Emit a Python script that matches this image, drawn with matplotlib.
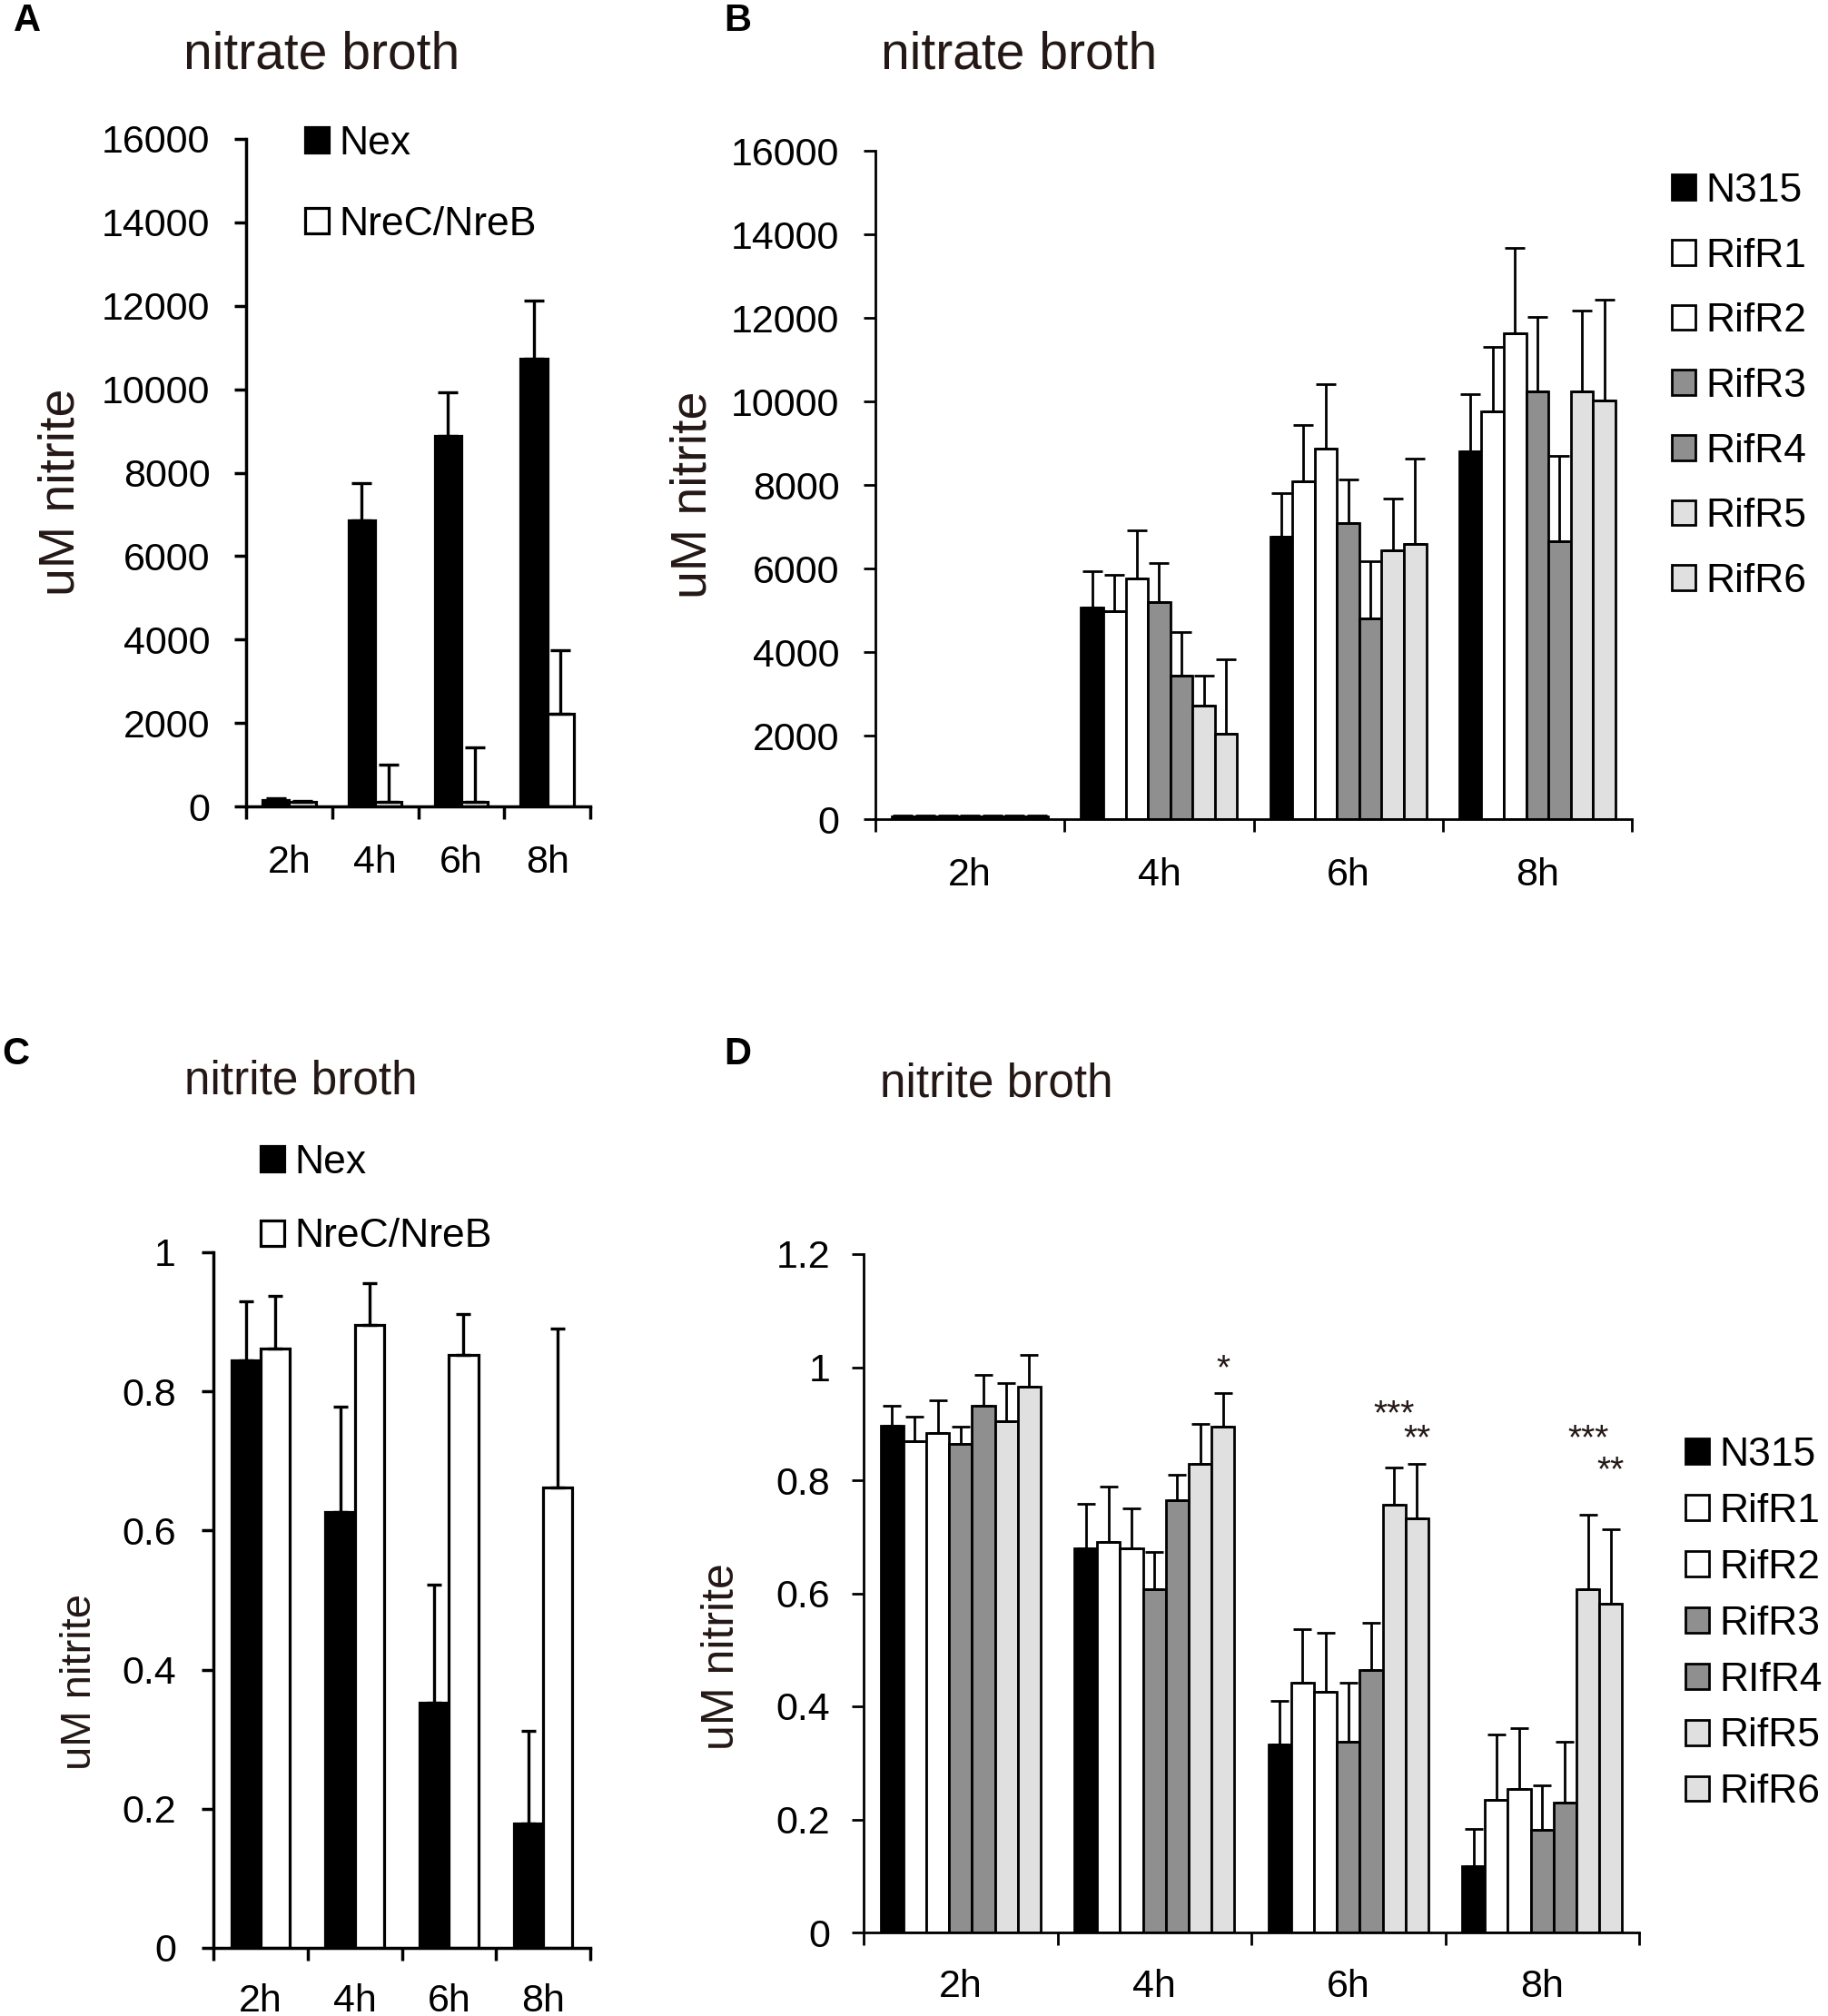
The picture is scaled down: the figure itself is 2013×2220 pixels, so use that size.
import numpy as np
import matplotlib.pyplot as plt
from matplotlib.ticker import FuncFormatter

plt.rcParams['font.family'] = ['Liberation Sans', 'DejaVu Sans']

W, H, DPI = 2013, 2220, 100
INK = '#231815'

times = ['2h', '4h', '6h', '8h']

# A / C: Nex vs NreC/NreB
ac_labels = ['Nex', 'NreC/NreB']
a_nex = [150, 6860, 8880, 10740]
a_nex_err = [50, 880, 1040, 1380]
a_nre = [100, 100, 100, 2220]
a_nre_err = [30, 900, 1310, 1530]

c_nex = [0.844, 0.627, 0.352, 0.179]
c_nex_err = [0.086, 0.151, 0.170, 0.133]
c_nre = [0.862, 0.896, 0.853, 0.662]
c_nre_err = [0.075, 0.059, 0.058, 0.228]

# B / D: N315 and six RifR strains
b_strains = ['N315', 'RifR1', 'RifR2', 'RifR3', 'RifR4', 'RifR5', 'RifR6']
d_strains = ['N315', 'RifR1', 'RifR2', 'RifR3', 'RIfR4', 'RifR5', 'RifR6']
strain_colors = ['#000000', '#ffffff', '#ffffff', '#8f8f8f', '#8f8f8f', '#e0e0e0', '#e0e0e0']

b_means = [
    [60, 5070, 6770, 8810],
    [60, 4970, 8090, 9760],
    [60, 5770, 8880, 11630],
    [60, 5200, 7080, 10240],
    [60, 3440, 4800, 6660],
    [60, 2710, 6430, 10240],
    [60, 2050, 6590, 10030],
]
b_errs = [
    [20, 870, 1040, 1360],
    [20, 870, 1350, 1550],
    [20, 1140, 1540, 2040],
    [20, 920, 1050, 1790],
    [20, 1040, 1380, 2030],
    [20, 730, 1240, 1940],
    [20, 1770, 2030, 2400],
]

d_means = [
    [0.896, 0.680, 0.332, 0.117],
    [0.869, 0.691, 0.441, 0.235],
    [0.883, 0.679, 0.426, 0.254],
    [0.865, 0.607, 0.338, 0.181],
    [0.931, 0.764, 0.464, 0.229],
    [0.905, 0.829, 0.756, 0.607],
    [0.966, 0.894, 0.733, 0.582],
]
d_errs = [
    [0.035, 0.079, 0.077, 0.066],
    [0.044, 0.098, 0.095, 0.115],
    [0.059, 0.072, 0.104, 0.107],
    [0.029, 0.066, 0.103, 0.080],
    [0.055, 0.046, 0.084, 0.109],
    [0.067, 0.071, 0.067, 0.132],
    [0.055, 0.061, 0.096, 0.132],
]

# significance marks in D
d_stars = ['*', '***', '**', '***', '**']
d_star_time = [1, 2, 2, 3, 3]
d_star_strain = [6, 5, 6, 5, 6]
d_star_y = [1.009, 0.928, 0.885, 0.885, 0.828]

fig = plt.figure(figsize=(W / DPI, H / DPI), dpi=DPI)


def px_axes(left, right, top, bottom):
    return fig.add_axes([left / W, 1 - bottom / H, (right - left) / W, (bottom - top) / H])


def frame(ax, ymax, ystep, lw, ypad, xpad):
    ax.spines[['top', 'right']].set_visible(False)
    ax.spines['left'].set_linewidth(lw)
    ax.spines['bottom'].set_linewidth(lw)
    ax.set_xlim(-0.5, 3.5)
    ax.set_ylim(0, ymax)
    ax.set_yticks(np.arange(0, ymax + ystep / 2, ystep))
    ax.yaxis.set_major_formatter(FuncFormatter(lambda v, p: f'{v:g}'))
    ax.set_xticks(range(len(times)))
    ax.set_xticklabels(times)
    ax.set_xticks(np.arange(-0.5, len(times), 1), minor=True)
    ax.tick_params(axis='x', which='major', length=0, pad=xpad, labelsize=31)
    ax.tick_params(axis='x', which='minor', length=10, width=lw, direction='out')
    ax.tick_params(axis='y', length=9.5, width=lw, pad=ypad, labelsize=31, direction='out')


def bars(ax, means, errs, labels, colors, width, lw, elw, cap):
    n = len(means)
    x = np.arange(len(times))
    for i in range(n):
        ax.bar(x + (i - (n - 1) / 2) * width, means[i], width, color=colors[i],
               edgecolor='black', linewidth=lw, label=labels[i],
               yerr=[np.zeros(len(times)), errs[i]],
               error_kw=dict(ecolor='black', elinewidth=elw, capsize=cap, capthick=elw))


def legend(ax, x, y, spacing):
    ax.legend(loc='upper left', bbox_to_anchor=(x / W, 1 - y / H), bbox_transform=fig.transFigure,
              frameon=False, fontsize=32, handlelength=0.58, handleheight=0.58,
              handletextpad=0.25, labelspacing=spacing, borderpad=0, borderaxespad=0)


def ylabel(ax, text, x, y, size):
    ax.set_ylabel(text, fontsize=size, color=INK)
    ax.yaxis.set_label_coords(x / W, 1 - y / H, transform=fig.transFigure)
    ax.yaxis.label.set_verticalalignment('center')


# ---- A
axA = px_axes(271, 650, 153, 888)
bars(axA, [a_nex, a_nre], [a_nex_err, a_nre_err], ac_labels, ['#000000', '#ffffff'],
     0.31, 2.3, 2.4, 7.8)
frame(axA, 16000, 2000, 2.5, 19, 30)
legend(axA, 336, 138, 1.07)
ylabel(axA, 'uM nitrite', 68, 542, 40)

# ---- B
axB = px_axes(964, 1797, 166, 902)
bars(axB, b_means, b_errs, b_strains, strain_colors, 0.118, 2.0, 2.0, 7.8)
frame(axB, 16000, 2000, 2.0, 19, 30)
legend(axB, 1841, 190, 0.69)
ylabel(axB, 'uM nitrite', 763, 545, 40)

# ---- C
axC = px_axes(235, 650, 1379, 2145)
bars(axC, [c_nex, c_nre], [c_nex_err, c_nre_err], ac_labels, ['#000000', '#ffffff'],
     0.31, 2.3, 2.4, 5.5)
frame(axC, 1.0, 0.2, 2.5, 20, 28)
legend(axC, 287, 1260, 0.91)
ylabel(axC, 'uM nitrite', 88, 1852, 34)

# ---- D
axD = px_axes(951, 1805, 1381, 2128)
bars(axD, d_means, d_errs, d_strains, strain_colors, 0.118, 2.0, 2.0, 7.2)
frame(axD, 1.2, 0.2, 2.0, 17, 29)
legend(axD, 1856, 1582, 0.47)
ylabel(axD, 'uM nitrite', 795, 1824, 36)
for s, t, k, yv in zip(d_stars, d_star_time, d_star_strain, d_star_y):
    axD.annotate(s, xy=(t + (k - 3) * 0.118, yv), xytext=(0, -13), textcoords='offset points',
                 ha='center', va='baseline', fontsize=28, color=INK)

# titles and panel letters
fig.text(354 / W, 1 - 61 / H, 'nitrate broth', fontsize=41, color=INK, ha='center', va='center')
fig.text(1122 / W, 1 - 61 / H, 'nitrate broth', fontsize=41, color=INK, ha='center', va='center')
fig.text(331 / W, 1 - 1191 / H, 'nitrite broth', fontsize=37, color=INK, ha='center', va='center')
fig.text(1097 / W, 1 - 1194 / H, 'nitrite broth', fontsize=37, color=INK, ha='center', va='center')
for letter, lx, ly in [('A', 30, 23), ('B', 812, 23), ('C', 17, 1161), ('D', 812, 1161)]:
    fig.text(lx / W, 1 - ly / H, letter, fontsize=30, fontweight='bold', ha='center', va='center')

fig.savefig('out.png', dpi=DPI, facecolor='white')
